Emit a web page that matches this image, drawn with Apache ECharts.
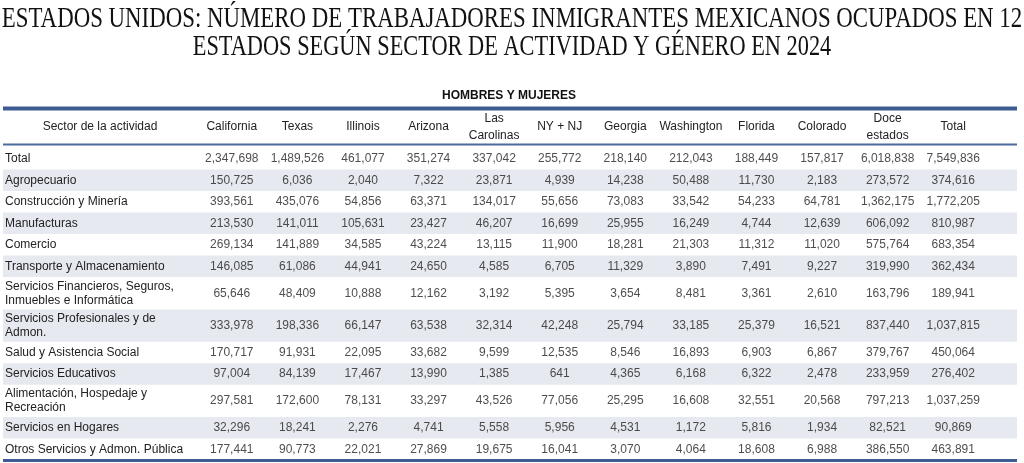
<!DOCTYPE html>
<html><head><meta charset="utf-8">
<script src="https://cdn.jsdelivr.net/npm/echarts/dist/echarts.min.js"></script>
<style>html,body{margin:0;padding:0;background:#fff}#c{width:1024px;height:463px}</style>
</head><body><div id="c"></div>
<script>
const columns = ['California','Texas','Illinois','Arizona','Las\nCarolinas','NY + NJ','Georgia','Washington','Florida','Colorado','Doce\nestados','Total'];
const sectors = ['Total','Agropecuario','Construcción y Minería','Manufacturas','Comercio','Transporte y Almacenamiento','Servicios Financieros, Seguros,\nInmuebles e Informática','Servicios Profesionales y de\nAdmon.','Salud y Asistencia Social','Servicios Educativos','Alimentación, Hospedaje y\nRecreación','Servicios en Hogares','Otros Servicios y Admon. Pública'];
const california = [2347698,150725,393561,213530,269134,146085,65646,333978,170717,97004,297581,32296,177441];
const texas = [1489526,6036,435076,141011,141889,61086,48409,198336,91931,84139,172600,18241,90773];
const illinois = [461077,2040,54856,105631,34585,44941,10888,66147,22095,17467,78131,2276,22021];
const arizona = [351274,7322,63371,23427,43224,24650,12162,63538,33682,13990,33297,4741,27869];
const lasCarolinas = [337042,23871,134017,46207,13115,4585,3192,32314,9599,1385,43526,5558,19675];
const nyNj = [255772,4939,55656,16699,11900,6705,5395,42248,12535,641,77056,5956,16041];
const georgia = [218140,14238,73083,25955,18281,11329,3654,25794,8546,4365,25295,4531,3070];
const washington = [212043,50488,33542,16249,21303,3890,8481,33185,16893,6168,16608,1172,4064];
const florida = [188449,11730,54233,4744,11312,7491,3361,25379,6903,6322,32551,5816,18608];
const colorado = [157817,2183,64781,12639,11020,9227,2610,16521,6867,2478,20568,1934,6988];
const doceEstados = [6018838,273572,1362175,606092,575764,319990,163796,837440,379767,233959,797213,82521,386550];
const totalCol = [7549836,374616,1772205,810987,683354,362434,189941,1037815,450064,276402,1037259,90869,463891];
const titleLines = ['ESTADOS UNIDOS: NÚMERO DE TRABAJADORES INMIGRANTES MEXICANOS OCUPADOS EN 12','ESTADOS SEGÚN SECTOR DE ACTIVIDAD Y GÉNERO EN 2024'];
const subtitle = 'HOMBRES Y MUJERES';
const firstHeader = 'Sector de la actividad';

const valueCols = [california,texas,illinois,arizona,lasCarolinas,nyNj,georgia,washington,florida,colorado,doceEstados,totalCol];

// row spans (in row units) from the number of text lines of each sector label
const rowSpans = [];
let acc = 0;
sectors.forEach(function (s) {
  const h = 1 + 0.5 * (s.split('\n').length - 1);
  rowSpans.push([0, acc, acc + h]);
  acc += h;
});
const totalUnits = acc;

const cellData = [];
valueCols.forEach(function (col, j) {
  col.forEach(function (v, i) {
    const r = rowSpans[i];
    cellData.push([j, (r[1] + r[2]) / 2, v]);
  });
});

const FONT = '"Liberation Sans", Arial, sans-serif';
const chart = echarts.init(document.getElementById('c'), null, {renderer: 'canvas'});
chart.setOption({
  animation: false,
  backgroundColor: '#ffffff',
  grid: {left: 199, right: 38, top: 148, bottom: 3},
  xAxis: {
    type: 'category', data: columns, position: 'top',
    axisLine: {show: false}, axisTick: {show: false}, splitLine: {show: false},
    axisLabel: {margin: 21, verticalAlign: 'middle', lineHeight: 17, fontSize: 12, color: '#222', fontFamily: FONT, interval: 0}
  },
  yAxis: {type: 'value', min: 0, max: totalUnits, inverse: true, show: false, splitLine: {show: false}},
  series: [
    {
      type: 'custom', z: 1, silent: true,
      encode: {x: 0, y: [1, 2]},
      data: rowSpans,
      renderItem: function (params, api) {
        const i = params.dataIndex;
        const y0 = api.coord([0, api.value(1)])[1];
        const y1 = api.coord([0, api.value(2)])[1];
        const children = [];
        if (i % 2 === 1) {
          children.push({type: 'rect', shape: {x: 3, y: y0, width: 1014, height: y1 - y0}, style: {fill: '#e6e9ef'}});
        }
        children.push({type: 'text', x: 5, y: (y0 + y1) / 2,
          style: {text: sectors[i], font: '12px ' + FONT, fill: '#222', align: 'left', verticalAlign: 'middle', textAlign: 'left', textVerticalAlign: 'middle', lineHeight: 14}});
        return {type: 'group', children: children};
      }
    },
    {
      type: 'scatter', z: 3, silent: true, symbolSize: 0,
      data: cellData,
      label: {show: true, position: 'inside', color: '#222', fontSize: 12, fontFamily: FONT,
        formatter: function (p) { return p.value[2].toLocaleString('en-US'); }}
    }
  ],
  graphic: [
    {type: 'text', x: 512, y: 19, scaleX: 0.762, style: {text: titleLines[0], font: '30px "Liberation Serif", serif', fill: '#111', align: 'center', verticalAlign: 'middle', textAlign: 'center', textVerticalAlign: 'middle'}},
    {type: 'text', x: 512, y: 47, scaleX: 0.745, style: {text: titleLines[1], font: '30px "Liberation Serif", serif', fill: '#111', align: 'center', verticalAlign: 'middle', textAlign: 'center', textVerticalAlign: 'middle'}},
    {type: 'text', x: 509, y: 96, style: {text: subtitle, font: 'bold 12px ' + FONT, fill: '#111', align: 'center', verticalAlign: 'middle', textAlign: 'center', textVerticalAlign: 'middle'}},
    {type: 'text', x: 100, y: 127, style: {text: firstHeader, font: '12px ' + FONT, fill: '#222', align: 'center', verticalAlign: 'middle', textAlign: 'center', textVerticalAlign: 'middle'}},
    {type: 'line', shape: {x1: 3, y1: 108.5, x2: 1017, y2: 108.5}, style: {stroke: '#3c5c92', lineWidth: 4}},
    {type: 'line', shape: {x1: 3, y1: 144.5, x2: 1017, y2: 144.5}, style: {stroke: '#4b6aa0', lineWidth: 2}},
    {type: 'line', shape: {x1: 3, y1: 460.5, x2: 1017, y2: 460.5}, style: {stroke: '#3c5c92', lineWidth: 3}}
  ]
});
</script>
</body></html>
